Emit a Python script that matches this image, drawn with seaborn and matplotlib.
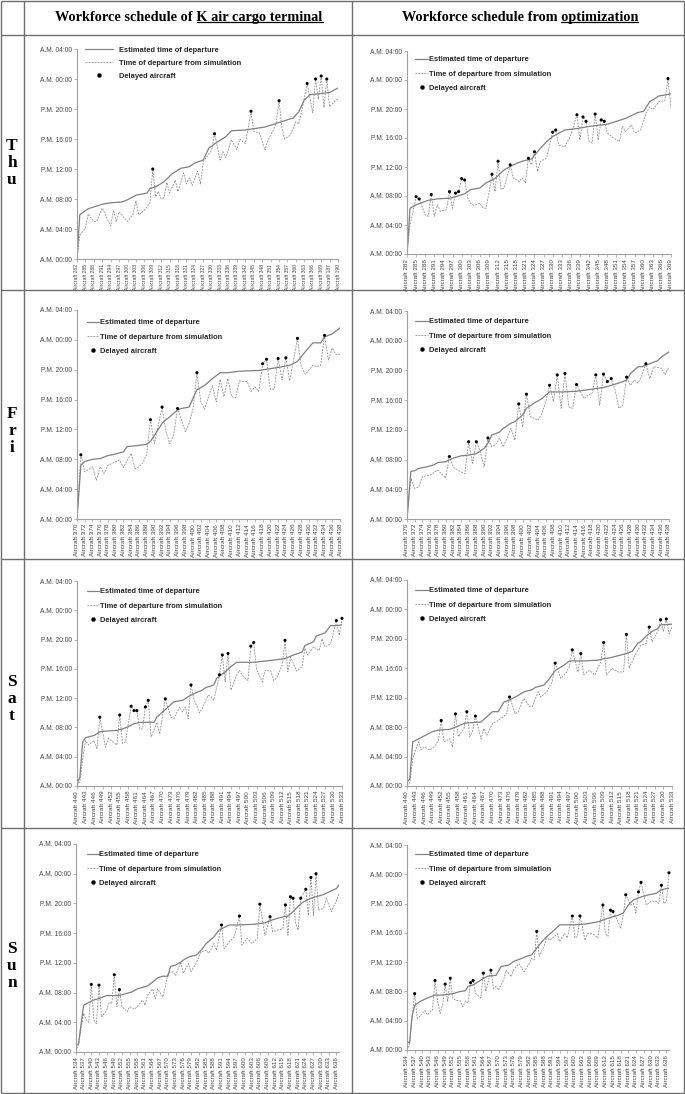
import matplotlib
matplotlib.use("Agg")
import matplotlib.pyplot as plt
import seaborn as sns
import pandas as pd
from matplotlib.lines import Line2D

sns.set_theme(style="white")
plt.rcParams['font.family'] = ['Liberation Sans', 'DejaVu Sans']

W, H, DPI = 685, 1094, 100

# ------------------------------------------------------------------ data
hour_ticks = [0, 4, 8, 12, 16, 20, 24, 28]
hour_labels = ["A.M. 00:00", "A.M. 04:00", "A.M. 08:00", "P.M. 12:00",
               "P.M. 16:00", "P.M. 20:00", "A.M. 00:00", "A.M. 04:00"]
days = ["Thu", "Fri", "Sat", "Sun"]
col_titles = [("Workforce schedule of ", "K air cargo terminal"),
              ("Workforce schedule from ", "optimization")]
legend_labels = ["Estimated time of departure",
                 "Time of departure from simulation",
                 "Delayed aircraft"]

thu_l_ids = [282, 285, 288, 291, 294, 297, 300, 303, 306, 309, 312, 315, 318, 321, 324, 327,
             330, 333, 336, 339, 342, 345, 348, 351, 354, 357, 360, 363, 366, 369, 187, 190]
thu_r_ids = [282, 285, 288, 291, 294, 297, 300, 303, 306, 309, 312, 315, 318, 321, 324, 327,
             330, 333, 336, 339, 342, 345, 348, 351, 354, 357, 360, 363, 366, 369]
fri_ids = [370, 372, 374, 376, 378, 380, 382, 384, 386, 388, 390, 392, 394, 396, 398, 400, 402,
           404, 406, 408, 410, 412, 414, 416, 418, 420, 422, 424, 426, 428, 430, 432, 434, 436, 438]
sat_ids = [440, 443, 446, 449, 452, 455, 458, 461, 464, 467, 470, 473, 476, 479, 482, 485,
           488, 491, 494, 497, 500, 503, 506, 509, 512, 515, 518, 521, 524, 527, 530, 533]
sun_ids = [534, 537, 540, 543, 546, 549, 552, 555, 558, 561, 564, 567, 570, 573, 576, 579, 582, 585,
           588, 591, 594, 597, 600, 603, 606, 609, 612, 615, 618, 621, 624, 627, 630, 633, 636]

# (aircraft index, hour of day) pairs
thu_l_est = [(0, 0), (1, 5.9), (4, 6.7), (9, 7.3), (12, 7.5), (16, 7.6), (18, 7.9), (21, 8.5), (25, 8.8),
             (26, 9.4), (28, 9.6), (31, 10.3), (34, 11.4), (37, 12.1), (40, 12.3), (42, 12.8), (45, 13.2),
             (47, 14.8), (50, 15.6), (53, 16.3), (55, 17.1), (60, 17.2), (67, 17.6), (72, 18.2), (77, 18.8),
             (79, 19.6), (81, 21.2), (83, 21.9), (90, 22.2), (93, 22.8)]
thu_l_sim = [(0, 0), (1, 3.2), (3, 4.1), (4, 6.0), (6, 5.0), (7, 5.0), (9, 6.8), (12, 4.4), (13, 6.5), (14, 5.0),
             (15, 6.3), (18, 5.0), (20, 6.0), (21, 7.8), (22, 5.9), (24, 6.5), (26, 7.5), (27, 12.0), (28, 8.3),
             (29, 9.0), (30, 8.0), (31, 8.2), (32, 10.2), (33, 8.8), (35, 10.5), (36, 9.0), (38, 11.5), (39, 10.0),
             (40, 10.8), (41, 9.8), (43, 11.7), (44, 10.0), (45, 13.0), (47, 14.0), (48, 14.5), (49, 16.7),
             (51, 13.2), (52, 14.3), (53, 13.5), (55, 15.9), (57, 14.6), (58, 16.0), (60, 15.4), (61, 17.5),
             (62, 19.7), (63, 17.0), (65, 16.8), (67, 14.5), (68, 15.8), (70, 17.2), (71, 18.3), (72, 21.1),
             (73, 17.5), (74, 16.0), (76, 16.5), (78, 18.3), (79, 18.0), (80, 19.6), (82, 23.4), (84, 19.5),
             (85, 24.0), (86, 21.3), (87, 24.4), (88, 20.2), (89, 24.0), (90, 20.3), (92, 21.1), (93, 21.3)]
thu_l_delayed = [27, 49, 62, 72, 82, 85, 87, 89]

thu_r_est = [(0, 0), (1, 6.3), (3, 6.8), (7, 7.4), (10, 7.6), (14, 7.7), (16, 7.9), (19, 8.3), (21, 8.9),
             (24, 9.1), (26, 9.8), (29, 10.4), (32, 11.6), (35, 12.3), (38, 12.8), (41, 13.1), (44, 14.6),
             (46, 15.5), (48, 16.2), (52, 17.1), (56, 17.3), (60, 17.6), (66, 17.9), (69, 18.3), (72, 18.7),
             (76, 19.5), (78, 19.7), (80, 21.0), (83, 21.8), (86, 22.0), (87, 22.1)]
thu_r_sim = [(0, 0), (1, 4.0), (2, 5.9), (3, 7.9), (4, 7.6), (6, 5.4), (7, 5.2), (8, 8.2), (9, 5.2), (10, 6.8),
             (11, 5.9), (13, 6.1), (14, 8.6), (15, 6.3), (16, 8.4), (17, 8.6), (18, 10.4), (19, 10.2), (20, 7.7),
             (21, 7.0), (22, 6.7), (24, 7.0), (25, 6.4), (26, 6.3), (27, 8.4), (28, 11.0), (29, 8.6), (30, 12.8),
             (31, 8.9), (32, 9.1), (34, 12.3), (35, 10.5), (37, 10.0), (38, 10.5), (39, 9.8), (40, 13.2),
             (41, 12.3), (42, 14.1), (43, 11.4), (44, 12.8), (46, 13.2), (48, 16.8), (49, 17.1), (50, 15.0),
             (52, 14.8), (54, 16.4), (56, 19.2), (57, 15.7), (58, 18.9), (59, 18.3), (60, 15.5), (61, 15.3),
             (62, 19.3), (63, 15.7), (64, 18.5), (65, 18.3), (66, 16.7), (68, 16.0), (70, 15.5), (71, 17.6),
             (72, 16.9), (74, 17.8), (75, 16.7), (77, 17.1), (79, 19.6), (80, 20.3), (81, 19.9), (83, 21.0),
             (85, 21.2), (86, 24.2), (87, 20.1)]
thu_r_delayed = [3, 4, 8, 14, 16, 17, 18, 19, 28, 30, 34, 40, 42, 48, 49, 56, 58, 59, 62, 64, 65, 86]

fri_l_est = [(0, 0), (1, 7.2), (2, 7.7), (4, 8.0), (6, 8.1), (8, 8.5), (10, 8.7), (12, 9.0), (13, 9.7),
             (15, 9.8), (18, 10.0), (19, 10.4), (20, 11.2), (22, 12.8), (23, 13.3), (24, 13.7), (26, 14.6),
             (27, 14.8), (29, 15.0), (30, 16.2), (31, 17.3), (33, 17.9), (35, 18.8), (37, 19.6), (39, 19.6),
             (42, 19.8), (47, 19.9), (52, 20.3), (55, 20.6), (57, 21.1), (59, 22.4), (61, 23.6), (63, 23.6),
             (64, 24.4), (66, 24.8), (68, 25.6)]
fri_l_sim = [(0, 0), (1, 8.6), (2, 6.3), (4, 7.0), (5, 5.2), (6, 7.0), (7, 6.1), (8, 7.2), (11, 7.9), (12, 6.9),
             (14, 8.8), (15, 6.7), (16, 7.0), (17, 7.5), (18, 8.6), (19, 13.3), (20, 10.1), (22, 15.0), (23, 11.7),
             (24, 10.1), (25, 11.3), (26, 14.8), (28, 11.7), (29, 12.8), (30, 14.8), (31, 19.6), (32, 15.7),
             (33, 14.7), (34, 16.4), (35, 17.9), (36, 15.7), (37, 18.7), (38, 16.4), (39, 18.8), (40, 16.4),
             (41, 16.2), (42, 18.5), (44, 18.4), (45, 17.1), (46, 17.7), (47, 17.1), (48, 20.8), (49, 21.4),
             (50, 17.4), (51, 17.4), (52, 21.5), (53, 18.6), (54, 21.6), (55, 18.5), (57, 24.2), (58, 20.4),
             (59, 19.4), (60, 20.0), (61, 20.6), (62, 20.4), (63, 20.6), (64, 24.6), (65, 21.3), (66, 22.9),
             (67, 22.0), (68, 22.1)]
fri_l_delayed = [1, 19, 22, 26, 31, 48, 49, 52, 54, 57, 64]

fri_r_est = [(0, 0), (1, 6.4), (2, 6.5), (3, 6.8), (5, 7.0), (7, 7.3), (8, 7.6), (10, 7.7), (12, 8.2), (14, 8.5),
             (16, 8.6), (18, 8.8), (20, 9.5), (21, 10.2), (22, 11.3), (24, 11.7), (25, 12.2), (27, 12.9),
             (28, 13.1), (30, 14.0), (31, 14.9), (33, 15.6), (35, 16.2), (37, 17.1), (40, 17.1), (44, 17.2),
             (47, 17.4), (51, 17.7), (53, 18.0), (55, 18.3), (57, 18.7), (58, 19.6), (60, 20.5), (61, 20.5),
             (63, 20.9), (65, 21.3), (66, 21.8), (68, 22.5)]
fri_r_sim = [(0, 0), (1, 5.5), (2, 4.1), (3, 4.3), (4, 5.7), (6, 5.9), (8, 6.6), (10, 5.5), (11, 8.4), (12, 7.0),
             (13, 6.6), (15, 6.1), (16, 10.4), (17, 7.5), (18, 10.4), (19, 9.1), (20, 7.0), (21, 10.9), (22, 9.7),
             (23, 10.0), (24, 10.9), (25, 9.7), (27, 12.2), (28, 10.6), (29, 15.5), (30, 12.4), (31, 16.8),
             (32, 13.8), (34, 13.3), (35, 14.2), (36, 15.8), (37, 18.0), (38, 15.8), (39, 19.4), (40, 14.9),
             (41, 19.6), (42, 15.1), (43, 14.9), (44, 18.1), (46, 16.2), (47, 16.7), (48, 16.9), (49, 19.4),
             (50, 15.3), (51, 19.5), (52, 18.5), (53, 18.9), (54, 17.4), (55, 14.9), (56, 15.3), (57, 19.1),
             (58, 18.0), (59, 18.7), (60, 18.3), (61, 19.4), (62, 20.9), (63, 18.9), (64, 20.5), (66, 20.3),
             (67, 19.4), (68, 20.5)]
fri_r_delayed = [11, 16, 18, 21, 29, 31, 37, 39, 41, 44, 49, 51, 52, 53, 57, 62]

sat_l_est = [(0, 0.3), (1, 1.2), (2, 6.0), (3, 6.6), (6, 6.9), (8, 7.4), (10, 7.5), (14, 7.6), (16, 7.8),
             (18, 8.1), (20, 8.5), (22, 8.7), (27, 8.7), (28, 9.4), (30, 10.1), (32, 10.8), (34, 11.5),
             (37, 11.7), (39, 12.2), (41, 12.6), (44, 13.1), (45, 13.4), (48, 13.8), (49, 14.7), (52, 15.6),
             (54, 16.3), (56, 16.9), (62, 16.9), (67, 17.1), (71, 17.3), (73, 17.4), (76, 17.9), (79, 18.3),
             (80, 19.2), (83, 19.7), (84, 20.5), (87, 20.9), (89, 21.9), (91, 21.9), (93, 22.0)]
sat_l_sim = [(0, 0), (1, 0.6), (2, 3.7), (3, 6.2), (4, 5.6), (6, 6.2), (7, 5.1), (8, 9.4), (10, 5.3), (11, 6.5),
             (14, 5.6), (15, 9.7), (16, 5.8), (17, 6.0), (19, 10.9), (20, 10.3), (21, 10.3), (22, 7.8), (23, 7.8),
             (24, 10.8), (25, 11.7), (26, 6.7), (27, 7.6), (28, 8.7), (29, 7.1), (31, 11.9), (33, 9.4), (34, 9.2),
             (36, 10.8), (37, 10.1), (38, 10.8), (39, 9.2), (40, 13.8), (41, 11.9), (43, 10.0), (44, 10.6),
             (46, 12.4), (47, 12.2), (48, 11.7), (50, 15.2), (51, 17.9), (52, 14.2), (53, 18.1), (54, 13.1),
             (56, 15.1), (57, 15.8), (58, 15.1), (60, 14.4), (61, 19.1), (62, 19.6), (63, 16.0), (65, 14.2),
             (66, 15.8), (68, 15.7), (69, 14.4), (70, 14.7), (72, 16.5), (73, 19.9), (74, 15.6), (75, 17.6),
             (77, 15.7), (79, 16.3), (80, 18.8), (81, 17.9), (83, 19.0), (85, 18.5), (86, 20.1), (87, 19.0),
             (89, 19.4), (91, 22.6), (92, 20.6), (93, 22.9)]
sat_l_delayed = [8, 15, 19, 20, 21, 24, 25, 31, 40, 50, 51, 53, 61, 62, 73, 91, 93]

sat_r_est = [(0, 0.5), (1, 1.0), (2, 6.0), (4, 6.4), (6, 6.8), (9, 7.4), (11, 7.6), (15, 7.7), (17, 8.0),
             (20, 8.5), (22, 8.6), (26, 8.7), (28, 9.4), (30, 10.1), (32, 10.1), (34, 11.4), (36, 11.7),
             (39, 12.3), (41, 12.8), (44, 13.1), (45, 13.4), (48, 13.7), (50, 14.6), (52, 15.7), (55, 16.4),
             (57, 17.0), (62, 17.0), (67, 17.1), (69, 17.3), (71, 17.4), (74, 17.7), (77, 18.0), (79, 18.3),
             (81, 19.4), (82, 19.6), (84, 20.4), (86, 21.0), (88, 21.4), (89, 21.9), (93, 22.0)]
sat_r_sim = [(0, 0), (1, 0.5), (2, 3.7), (4, 6.0), (5, 4.9), (6, 5.3), (8, 4.9), (10, 5.5), (11, 6.2), (12, 8.9),
             (13, 6.0), (15, 6.4), (16, 5.3), (17, 9.8), (18, 6.7), (20, 7.8), (21, 10.1), (22, 6.7), (23, 7.4),
             (24, 9.5), (26, 6.4), (27, 7.8), (28, 6.9), (30, 8.5), (32, 8.9), (33, 9.2), (35, 9.8), (36, 12.1),
             (38, 9.8), (39, 10.1), (41, 11.9), (43, 10.8), (44, 10.8), (46, 12.8), (47, 12.1), (49, 12.8),
             (51, 14.2), (52, 16.7), (54, 14.6), (56, 15.5), (57, 16.2), (58, 18.5), (60, 15.5), (61, 18.0),
             (62, 15.1), (64, 15.7), (66, 15.1), (68, 16.9), (69, 19.5), (70, 15.1), (72, 16.0), (74, 15.5),
             (76, 15.5), (77, 20.6), (78, 16.0), (80, 17.8), (82, 19.1), (84, 19.4), (85, 21.6), (86, 19.6),
             (88, 21.0), (89, 22.6), (90, 21.0), (91, 22.7), (92, 20.7), (93, 21.6)]
sat_r_delayed = [12, 17, 21, 24, 36, 52, 58, 61, 69, 77, 85, 89, 91]

sun_l_est = [(0, 0.9), (1, 1.1), (2, 3.8), (3, 6.3), (4, 6.5), (7, 7.0), (9, 7.2), (12, 7.6), (17, 7.6),
             (20, 7.9), (22, 8.1), (24, 8.5), (26, 8.7), (28, 8.9), (30, 9.4), (32, 10.0), (34, 10.2),
             (36, 10.2), (37, 11.5), (39, 11.7), (41, 12.1), (43, 12.6), (45, 12.9), (47, 13.0), (49, 13.7),
             (51, 14.6), (54, 15.5), (56, 16.4), (60, 17.1), (64, 17.1), (70, 17.2), (74, 17.4), (77, 17.8),
             (80, 18.1), (83, 18.3), (85, 18.9), (87, 19.6), (89, 20.2), (92, 20.7), (94, 20.9), (97, 21.2),
             (100, 21.7), (102, 22.0), (103, 22.5)]
sun_l_sim = [(0, 0.1), (1, 1.1), (3, 5.2), (4, 4.3), (5, 4.0), (6, 9.1), (7, 4.3), (8, 3.8), (9, 9.0), (10, 4.7),
             (12, 5.6), (13, 6.7), (14, 6.5), (15, 10.4), (16, 6.1), (17, 8.4), (18, 6.1), (20, 5.4), (21, 6.1),
             (23, 5.8), (24, 6.1), (26, 7.0), (27, 6.3), (28, 7.6), (30, 8.5), (31, 7.2), (32, 8.5), (34, 7.4),
             (35, 8.8), (36, 10.6), (38, 10.8), (39, 10.3), (41, 12.1), (42, 10.6), (44, 11.9), (45, 10.8),
             (47, 11.9), (49, 13.5), (51, 13.7), (52, 13.3), (54, 14.6), (55, 13.7), (57, 17.1), (58, 13.9),
             (60, 14.8), (62, 15.5), (64, 18.3), (65, 14.4), (67, 15.3), (69, 14.6), (71, 15.3), (72, 19.9),
             (74, 15.7), (76, 18.2), (77, 16.2), (79, 16.4), (81, 16.6), (82, 19.8), (83, 15.7), (84, 20.9),
             (85, 20.7), (86, 17.3), (87, 16.4), (88, 20.7), (90, 21.9), (91, 18.4), (92, 23.5), (93, 18.4),
             (94, 24.0), (95, 19.1), (97, 19.3), (98, 20.7), (100, 18.9), (102, 20.4), (103, 21.3)]
sun_l_delayed = [6, 9, 15, 17, 57, 64, 72, 76, 82, 84, 85, 88, 90, 92, 94]

sun_r_est = [(0, 1.1), (1, 1.0), (2, 4.6), (3, 6.1), (5, 6.6), (8, 7.1), (11, 7.5), (14, 7.5), (18, 7.7),
             (21, 8.0), (23, 8.1), (24, 8.7), (26, 8.9), (28, 9.3), (30, 9.8), (32, 10.1), (35, 10.2),
             (37, 11.4), (40, 11.6), (42, 12.1), (45, 12.5), (47, 12.8), (49, 13.0), (51, 13.9), (53, 14.8),
             (55, 15.5), (58, 16.4), (60, 17.1), (66, 17.1), (70, 17.2), (75, 17.5), (79, 18.0), (83, 18.4),
             (85, 18.7), (87, 19.8), (89, 20.5), (92, 20.9), (95, 21.2), (98, 21.4), (100, 21.9), (103, 22.1)]
sun_r_sim = [(0, 0), (1, 0.7), (2, 4.6), (3, 7.7), (4, 4.3), (5, 4.6), (7, 5.4), (8, 4.8), (10, 5.5), (11, 9.5),
             (12, 6.8), (13, 5.0), (14, 6.1), (15, 9.0), (16, 6.6), (17, 9.8), (18, 7.1), (19, 6.8), (21, 6.7),
             (22, 5.9), (23, 6.7), (24, 6.4), (25, 9.2), (26, 9.5), (27, 7.7), (29, 7.1), (30, 10.5), (31, 8.0),
             (33, 10.9), (34, 8.4), (35, 8.7), (36, 8.2), (38, 9.6), (39, 10.9), (41, 10.0), (42, 11.0),
             (44, 11.8), (46, 10.7), (48, 11.8), (49, 12.5), (50, 12.3), (51, 16.2), (52, 12.8), (54, 14.3),
             (55, 15.5), (56, 15.0), (58, 15.5), (59, 15.9), (60, 14.8), (62, 15.9), (63, 15.3), (65, 18.3),
             (66, 15.3), (67, 15.5), (68, 18.3), (70, 15.0), (71, 15.9), (73, 15.9), (75, 15.3), (77, 19.8),
             (78, 15.9), (79, 15.5), (80, 19.1), (81, 18.9), (83, 17.5), (84, 16.6), (85, 18.4), (86, 21.2),
             (88, 19.8), (89, 20.0), (90, 18.7), (91, 21.6), (92, 22.9), (94, 19.8), (96, 20.3), (98, 20.3),
             (99, 20.0), (100, 22.5), (101, 20.0), (102, 20.3), (103, 24.2)]
sun_r_delayed = [3, 11, 15, 17, 25, 26, 30, 33, 51, 65, 68, 77, 80, 81, 86, 91, 92, 100, 103]

# ------------------------------------------------------------------ layout (pixels)
# rect: x of first category, x of last category, y of 28 h, y of 0 h
# leg: handle left, first row centre, handle length, text left
panels = [
    dict(ids=thu_l_ids, step=3, n=94, est=thu_l_est, sim=thu_l_sim, dl=thu_l_delayed,
         rect=(77, 338, 49, 259), leg=(85, 50.7, 28, 119), ls=0.75, xfs=3.6),
    dict(ids=thu_r_ids, step=3, n=88, est=thu_r_est, sim=thu_r_sim, dl=thu_r_delayed,
         rect=(407, 671, 51, 254), leg=(415, 60, 13, 429), ls=0.95, xfs=4.5),
    dict(ids=fri_ids, step=2, n=69, est=fri_l_est, sim=fri_l_sim, dl=fri_l_delayed,
         rect=(77, 340, 310, 519), leg=(87, 323, 12, 100), ls=0.95, xfs=4.6),
    dict(ids=fri_ids, step=2, n=69, est=fri_r_est, sim=fri_r_sim, dl=fri_r_delayed,
         rect=(407, 669, 311, 519), leg=(415, 322, 13, 429), ls=0.95, xfs=4.6),
    dict(ids=sat_ids, step=3, n=94, est=sat_l_est, sim=sat_l_sim, dl=sat_l_delayed,
         rect=(77, 342, 581, 786), leg=(87, 592, 12, 100), ls=0.95, xfs=4.6),
    dict(ids=sat_ids, step=3, n=94, est=sat_r_est, sim=sat_r_sim, dl=sat_r_delayed,
         rect=(407, 672, 580, 786), leg=(415, 591, 13, 429), ls=0.95, xfs=4.6),
    dict(ids=sun_ids, step=3, n=104, est=sun_l_est, sim=sun_l_sim, dl=sun_l_delayed,
         rect=(76, 339, 844, 1052), leg=(87, 855, 12, 99), ls=0.95, xfs=4.5),
    dict(ids=sun_ids, step=3, n=104, est=sun_r_est, sim=sun_r_sim, dl=sun_r_delayed,
         rect=(407, 669, 845, 1050), leg=(415, 855, 13, 429), ls=0.95, xfs=4.5),
]

EST_C = "#808080"
SIM_C = "#8c8c8c"
SIM_LS = (0, (2.2, 1.4))
TICK_C = "#444444"
FS_LEG = 5.4
FS_TICK = 4.8

fig = plt.figure(figsize=(W / DPI, H / DPI), dpi=DPI)
bg = fig.add_axes([0, 0, 1, 1])
bg.set_xlim(0, W)
bg.set_ylim(H, 0)
bg.axis("off")

# table grid
GRID_C = "#6e6e6e"
for x in [1, 24, 352, 684]:
    bg.plot([x, x], [1, 1093], color=GRID_C, lw=1.0, solid_capstyle="butt")
for y in [1, 35, 290, 559, 828, 1093]:
    bg.plot([1, 684], [y, y], color=GRID_C, lw=1.0, solid_capstyle="butt")

# column headers with underline
fig.canvas.draw()
renderer = fig.canvas.get_renderer()
for (pre, und), cx in zip(col_titles, [189, 520]):
    hdr_font = dict(fontfamily="Liberation Serif", fontweight="bold", fontsize=10.3)
    t = bg.text(cx, 17, pre + und, ha="center", va="center", color="black", **hdr_font)
    bb = t.get_window_extent(renderer)
    tmp = bg.text(0, 0, und, **hdr_font)
    w = tmp.get_window_extent(renderer).width
    tmp.remove()
    inv = bg.transData.inverted()
    xa, ya = inv.transform((bb.x1 - w, bb.y0 + 1.2))
    xb, yb = inv.transform((bb.x1, bb.y0 + 1.2))
    bg.plot([xa, xb], [ya, yb], color="black", lw=0.9)

# day labels
for d, yc in zip(days, [163, 431, 699, 966]):
    bg.text(12, yc, "\n".join(d), ha="center", va="center", fontfamily="Liberation Serif",
            fontweight="bold", fontsize=12.5, linespacing=1.12, color="black")

fs_px = FS_LEG * DPI / 72.0
for p in panels:
    x0, x1, yt, yb = p["rect"]
    ax = fig.add_axes([x0 / W, 1 - yb / H, (x1 - x0) / W, (yb - yt) / H])
    est = pd.DataFrame(p["est"], columns=["idx", "hour"])
    sim = pd.DataFrame(p["sim"], columns=["idx", "hour"])
    lookup = dict(p["sim"])
    dl = pd.DataFrame({"idx": p["dl"], "hour": [lookup[i] for i in p["dl"]]})

    sns.lineplot(data=sim, x="idx", y="hour", ax=ax, color=SIM_C, linewidth=0.6,
                 linestyle=SIM_LS, estimator=None, sort=False)
    sns.lineplot(data=est, x="idx", y="hour", ax=ax, color=EST_C, linewidth=0.9,
                 estimator=None, sort=False)
    sns.scatterplot(data=dl, x="idx", y="hour", ax=ax, color="black", s=5,
                    edgecolor="none", zorder=5, clip_on=False)

    ax.set_xlim(0, p["n"] - 1)
    ax.set_ylim(0, 28)
    ax.set_yticks(hour_ticks)
    ax.set_yticklabels(hour_labels)
    pos = [k * p["step"] for k in range(len(p["ids"]))]
    ax.set_xticks(pos)
    ax.set_xticklabels(["Aircraft %d" % i for i in p["ids"]], rotation=90)
    ax.set_xlabel("")
    ax.set_ylabel("")
    ax.tick_params(axis="both", labelcolor=TICK_C, color="#999999",
                   length=2, width=0.5, pad=1.5, direction="out")
    ax.tick_params(axis="y", left=True, labelsize=FS_TICK)
    ax.tick_params(axis="x", bottom=True, labelsize=p["xfs"])
    for s in ["top", "right"]:
        ax.spines[s].set_visible(False)
    for s in ["left", "bottom"]:
        ax.spines[s].set_color("#a0a0a0")
        ax.spines[s].set_linewidth(0.8)
    ax.set_facecolor("white")

    hl, rc, hlen, tl = p["leg"]
    handles = [Line2D([], [], color=EST_C, lw=0.9),
               Line2D([], [], color=SIM_C, lw=0.6, ls=SIM_LS),
               Line2D([], [], color="black", marker="o", ls="", ms=2.2)]
    ax.legend(handles, legend_labels, loc="upper left",
              bbox_to_anchor=(hl / W, 1 - (rc - 4.0) / H), bbox_transform=fig.transFigure,
              frameon=False, prop=dict(family="Liberation Sans", weight="bold", size=FS_LEG),
              handlelength=hlen / fs_px, handletextpad=(tl - hl - hlen) / fs_px,
              labelspacing=p["ls"], borderpad=0, borderaxespad=0, numpoints=1)

fig.savefig("out.png", dpi=DPI)
